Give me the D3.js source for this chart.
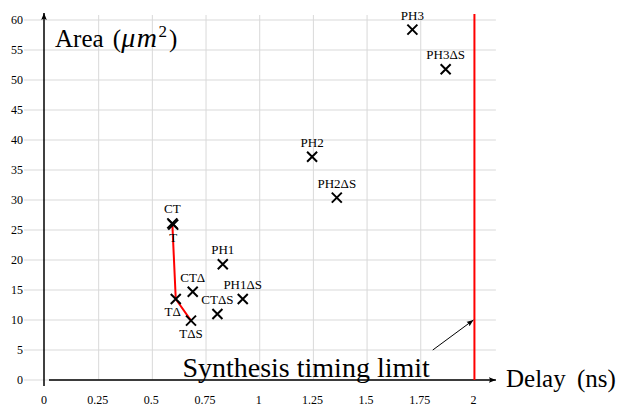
<!DOCTYPE html>
<html><head><meta charset="utf-8">
<script src="https://cdn.jsdelivr.net/npm/d3@7"></script>
<style>body{margin:0;background:#fff}svg{display:block}</style>
</head><body><svg id="c" width="623" height="413" font-family="'Liberation Serif', 'Times New Roman', Tinos, 'DejaVu Serif', serif"></svg>
<script>
const xTicks = [0, 0.25, 0.5, 0.75, 1, 1.25, 1.5, 1.75, 2];
const xTickLabels = ["0", "0.25", "0.5", "0.75", "1", "1.25", "1.5", "1.75", "2"];
const yTicks = [0, 5, 10, 15, 20, 25, 30, 35, 40, 45, 50, 55, 60];
const names = ["CT", "T", "TΔ", "TΔS", "CTΔ", "CTΔS", "PH1", "PH1ΔS", "PH2", "PH2ΔS", "PH3", "PH3ΔS"];
const delay = [0.593, 0.597, 0.609, 0.680, 0.688, 0.803, 0.828, 0.921, 1.244, 1.359, 1.711, 1.866];
const area  = [26.1, 25.9, 13.5, 9.9, 14.7, 11.0, 19.3, 13.5, 37.2, 30.4, 58.4, 51.8];
const labelBelow = ["T", "TΔ", "TΔS"];
const paretoNames = ["CT", "TΔ", "TΔS"];
const timingLimit = 2;

const svg = d3.select("#c");
const x = d3.scaleLinear().domain([0, 2.1]).range([45, 495.9]);
const y = d3.scaleLinear().domain([0, 61]).range([380, 14]);

// grid
const g = svg.append("g");
g.selectAll(".vg").data(xTicks.slice(1)).join("line")
  .attr("x1", d => x(d)).attr("x2", d => x(d)).attr("y1", y(61)+1).attr("y2", y(0))
  .attr("stroke", "#d9d9d9").attr("stroke-width", 1);
g.selectAll(".hg").data(yTicks).join("line")
  .attr("x1", 24).attr("x2", x(2.1)).attr("y1", d => y(d)).attr("y2", d => y(d))
  .attr("stroke", "#d9d9d9").attr("stroke-width", 1);

// tick labels
svg.selectAll(".yl").data(yTicks).join("text")
  .attr("x", 23).attr("y", d => y(d) + 4).attr("text-anchor", "end")
  .attr("font-size", 12).text(d => d);
svg.selectAll(".xl").data(xTicks).join("text")
  .attr("x", d => x(d) - 1).attr("y", 404).attr("text-anchor", "middle")
  .attr("font-size", 12).text((d, i) => xTickLabels[i]);

// markers defs
const defs = svg.append("defs");
defs.append("marker").attr("id", "ah").attr("viewBox", "0 0 10 10").attr("refX", 10).attr("refY", 5)
  .attr("markerWidth", 7).attr("markerHeight", 7).attr("markerUnits", "userSpaceOnUse").attr("orient", "auto")
  .append("path").attr("d", "M0,1 L10,5 L0,9 L2,5 Z").attr("fill", "#000");

// axes
svg.append("line").attr("x1", x(0) - 1).attr("x2", x(0) - 1).attr("y1", 386).attr("y2", y(61) - 1)
  .attr("stroke", "#000").attr("stroke-width", 1.5).attr("marker-end", "url(#ah)");
svg.append("line").attr("x1", 49).attr("x2", x(2.1)).attr("y1", y(0)).attr("y2", y(0))
  .attr("stroke", "#000").attr("stroke-width", 1.5).attr("marker-end", "url(#ah)");

// timing limit
svg.append("line").attr("x1", x(timingLimit)).attr("x2", x(timingLimit)).attr("y1", y(61)).attr("y2", y(0))
  .attr("stroke", "#ff0000").attr("stroke-width", 2);

// pareto front
const pts = names.map((n, i) => ({n, d: delay[i], a: area[i]}));
const pareto = paretoNames.map(n => pts.find(p => p.n === n));
svg.append("path").datum(pareto)
  .attr("d", d3.line().x(p => x(p.d)).y(p => y(p.a)))
  .attr("fill", "none").attr("stroke", "#ff0000").attr("stroke-width", 2);

// points
const s = 5;
const pg = svg.selectAll(".pt").data(pts).join("g")
  .attr("transform", p => `translate(${x(p.d)},${y(p.a)})`);
pg.append("path").attr("d", `M${-s},${-s}L${s},${s}M${-s},${s}L${s},${-s}`)
  .attr("stroke", "#000").attr("stroke-width", 2).attr("fill", "none");
pg.append("text").attr("text-anchor", "middle").attr("font-size", 13)
  .attr("y", p => labelBelow.includes(p.n) ? 17 : -10)
  .attr("x", p => p.n === "TΔ" ? -3 : 0)
  .text(p => p.n);

// annotation
svg.append("line").attr("x1", x(1.806)).attr("y1", y(5)).attr("x2", x(timingLimit) - 1).attr("y2", y(10))
  .attr("stroke", "#000").attr("stroke-width", 1).attr("marker-end", "url(#ah)");
svg.append("text").attr("x", x(0.64)).attr("y", y(0.55)).attr("font-size", 28).text("Synthesis timing limit");

// axis titles
const t = svg.append("text").attr("x", 55).attr("y", 47).attr("font-size", 25).attr("word-spacing", 3);
t.append("tspan").text("Area (");
t.append("tspan").attr("font-style", "italic").attr("font-size", 28).attr("letter-spacing", 1.5).text("μm");
t.append("tspan").attr("font-size", 17).attr("dy", -10).text("2");
t.append("tspan").attr("dy", 10).attr("dx", 2).text(")");
svg.append("text").attr("x", 506).attr("y", 387).attr("font-size", 25).attr("word-spacing", 5).text("Delay (ns)");
</script></body></html>
